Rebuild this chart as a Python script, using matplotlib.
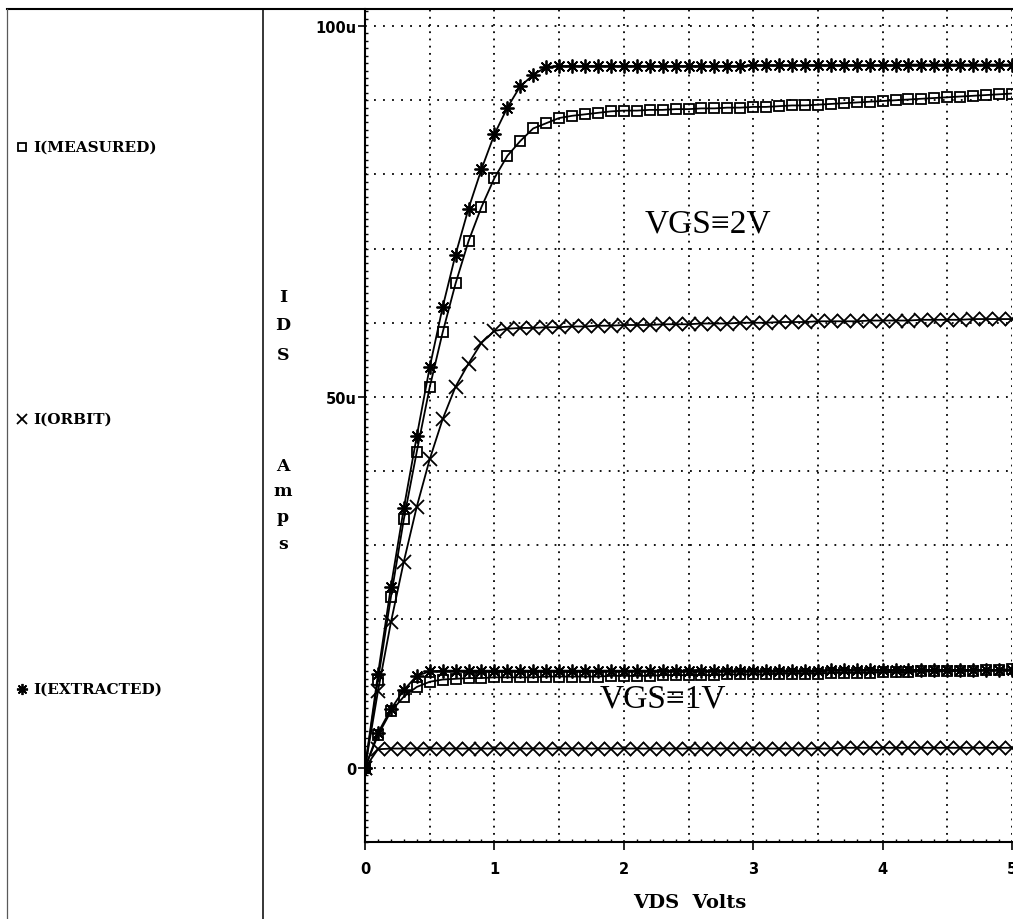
import numpy as np
import matplotlib.pyplot as plt
from matplotlib.lines import Line2D
from matplotlib.ticker import MultipleLocator, FixedLocator

# VDS sweep (V) and drain currents (uA) for the two gate biases
vds = np.round(np.linspace(0, 5, 51), 2)

meas_vgs2 = [0, 11.8, 23.0, 33.5, 42.6, 51.3, 58.7, 65.3, 71.0, 75.6,
             79.5, 82.5, 84.5, 86.2, 86.9, 87.6, 87.9, 88.1, 88.3, 88.5,
             88.6, 88.6, 88.7, 88.7, 88.8, 88.8, 88.9, 88.9, 89.0, 89.0,
             89.1, 89.1, 89.2, 89.3, 89.3, 89.4, 89.5, 89.6, 89.7, 89.8,
             89.9, 90.0, 90.1, 90.2, 90.3, 90.4, 90.5, 90.6, 90.7, 90.8,
             90.9]
orbit_vgs2 = [0, 10.3, 19.6, 27.8, 35.2, 41.6, 47.0, 51.4, 54.5, 57.3,
              58.9, 59.2, 59.3, 59.3, 59.4, 59.4, 59.5, 59.5, 59.6, 59.6,
              59.7, 59.7, 59.7, 59.8, 59.8, 59.8, 59.9, 59.9, 59.9, 60.0,
              60.0, 60.0, 60.1, 60.1, 60.1, 60.2, 60.2, 60.2, 60.2, 60.3,
              60.3, 60.3, 60.3, 60.4, 60.4, 60.4, 60.4, 60.5, 60.5, 60.5,
              60.5]
extr_vgs2 = [0, 12.6, 24.4, 35.0, 44.7, 54.0, 62.1, 69.2, 75.4, 80.7,
             85.4, 89.0, 91.9, 93.4, 94.5, 94.6, 94.6, 94.6, 94.6, 94.6,
             94.6, 94.6, 94.6, 94.6, 94.6, 94.6, 94.6, 94.6, 94.6, 94.6,
             94.7, 94.7, 94.7, 94.7, 94.7, 94.7, 94.7, 94.7, 94.7, 94.7,
             94.7, 94.7, 94.8, 94.8, 94.8, 94.8, 94.8, 94.8, 94.8, 94.8,
             94.8]

meas_vgs1 = [0, 4.4, 7.6, 9.6, 10.9, 11.6, 11.9, 12.0, 12.1, 12.1,
             12.2, 12.2, 12.2, 12.2, 12.3, 12.3, 12.3, 12.3, 12.3, 12.4,
             12.4, 12.4, 12.4, 12.5, 12.5, 12.5, 12.5, 12.5, 12.6, 12.6,
             12.6, 12.6, 12.7, 12.7, 12.7, 12.7, 12.8, 12.8, 12.8, 12.8,
             12.9, 12.9, 12.9, 13.0, 13.0, 13.0, 13.1, 13.1, 13.2, 13.2,
             13.3]
orbit_vgs1 = [0, 2.5, 2.6, 2.6, 2.6, 2.6, 2.6, 2.6, 2.6, 2.6,
              2.6, 2.6, 2.6, 2.6, 2.6, 2.6, 2.6, 2.6, 2.6, 2.6,
              2.6, 2.6, 2.6, 2.6, 2.6, 2.6, 2.6, 2.6, 2.6, 2.6,
              2.6, 2.6, 2.6, 2.6, 2.6, 2.6, 2.6, 2.7, 2.7, 2.7,
              2.7, 2.7, 2.7, 2.7, 2.7, 2.7, 2.7, 2.7, 2.7, 2.7,
              2.7]
extr_vgs1 = [0, 4.7, 7.9, 10.5, 12.4, 13.0, 13.1, 13.1, 13.1, 13.1,
             13.1, 13.1, 13.1, 13.1, 13.1, 13.1, 13.1, 13.1, 13.1, 13.1,
             13.1, 13.1, 13.1, 13.1, 13.1, 13.1, 13.1, 13.1, 13.1, 13.1,
             13.1, 13.1, 13.1, 13.1, 13.1, 13.1, 13.2, 13.2, 13.2, 13.2,
             13.2, 13.2, 13.2, 13.2, 13.2, 13.2, 13.2, 13.2, 13.2, 13.2,
             13.2]

legend_names = ['I(MEASURED)', 'I(ORBIT)', 'I(EXTRACTED)']
ytick_vals = [0, 50, 100]
ytick_text = ['0', '50u', '100u']

W, H = 1013, 920
fig = plt.figure(figsize=(W / 100, H / 100), dpi=100)
ax = fig.add_axes([365 / W, 1 - 843 / H, (1012 - 365) / W, (843 - 10) / H])

sq = dict(marker='s', ms=7.5, mfc='none', mec='black', mew=1.3)
xx = dict(marker='x', ms=9.5, mec='black', mew=1.3)
st = dict(marker=(8, 2, 0), ms=10, mec='black', mew=1.3)

for meas, orb, ext in [(meas_vgs2, orbit_vgs2, extr_vgs2),
                       (meas_vgs1, orbit_vgs1, extr_vgs1)]:
    ax.plot(vds, meas, color='black', lw=1.3, **sq)
    ax.plot(vds, orb, color='black', lw=1.3, **xx)
    ax.plot(vds, ext, color='black', lw=1.3, **st)

ax.set_xlim(0, 5)
ax.set_ylim(-10, 102.3)

# dotted grid every 0.5 V and 10 uA
for gx in np.arange(0.5, 5.01, 0.5):
    ax.axvline(gx, color='black', lw=1.3, ls=(0, (1, 3)), zorder=0)
for gy in np.arange(0, 100.1, 10):
    ax.axhline(gy, color='black', lw=1.3, ls=(0, (1, 4)), zorder=0)

ax.spines['top'].set_visible(False)
ax.spines['right'].set_visible(False)
ax.spines['left'].set_linewidth(1.5)
ax.spines['bottom'].set_linewidth(1.5)

ax.xaxis.set_major_locator(MultipleLocator(1))
ax.xaxis.set_minor_locator(MultipleLocator(0.1))
ax.yaxis.set_major_locator(FixedLocator(ytick_vals))
ax.yaxis.set_minor_locator(MultipleLocator(1))
ax.set_yticklabels(ytick_text)
ax.tick_params(axis='x', which='major', direction='out', length=6, width=1.2,
               pad=8, labelsize=10.5)
ax.tick_params(axis='y', which='major', direction='out', length=5, width=1.2,
               pad=1, labelsize=10.5)
ax.tick_params(which='minor', direction='in', length=2.5, width=1)
for lab in ax.get_xticklabels() + ax.get_yticklabels():
    lab.set_fontweight('bold')

serif = ['Liberation Serif', 'DejaVu Serif']
ax.text(2.65, 73.4, 'VGS\u22612V', family=serif, fontsize=24,
        ha='center', va='center')
ax.text(2.3, 9.4, 'VGS\u22611V', family=serif, fontsize=24,
        ha='center', va='center')

# frame lines around the legend panel
fig.add_artist(Line2D([7 / W, 1], [1 - 10 / H] * 2, color='black', lw=1.5))
fig.add_artist(Line2D([7 / W] * 2, [0, 1 - 10 / H], color='0.35', lw=0.9))
fig.add_artist(Line2D([263 / W] * 2, [0, 1 - 10 / H], color='black', lw=1.1))

# legend entries
leg_y = [148, 420, 690]
leg_style = [sq, xx, st]
for name, py, sty in zip(legend_names, leg_y, leg_style):
    s = dict(sty)
    s['ms'] = s['ms'] * 0.8
    fig.add_artist(Line2D([22 / W], [1 - py / H], color='black', **s))
    fig.text(33 / W, 1 - py / H, name, family='DejaVu Serif',
             fontweight='bold', fontsize=11, ha='left', va='center')

# stacked y-axis label
ylab_y = [297, 325, 355, 467, 492, 518, 545]
for ch, py in zip('IDSAmps', ylab_y):
    fig.text(283 / W, 1 - py / H, ch, family='DejaVu Serif',
             fontweight='bold', fontsize=12.5, ha='center', va='center')

fig.text(690 / W, 1 - 903 / H, 'VDS  Volts', family='DejaVu Serif',
         fontweight='bold', fontsize=14, ha='center', va='center')

fig.savefig('out.png', dpi=100)
